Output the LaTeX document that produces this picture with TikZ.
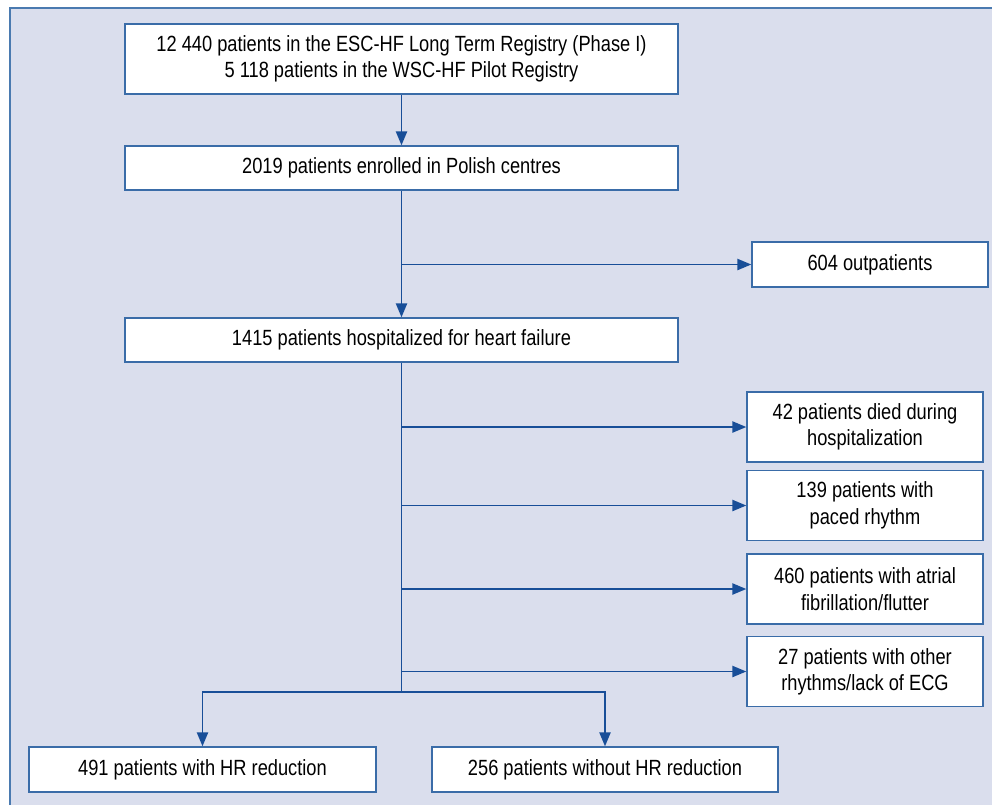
\documentclass[tikz,border=0pt]{standalone}
\usepackage{fontspec}
\setmainfont{Liberation Sans}[FakeStretch=0.83]
\usetikzlibrary{arrows.meta}
\definecolor{bgfill}{RGB}{218,222,237}
\definecolor{frameblue}{RGB}{74,122,176}
\definecolor{boxblue}{RGB}{58,108,168}
\definecolor{arrowblue}{RGB}{24,78,152}
\begin{document}
\begin{tikzpicture}[x=0.5pt, y=-0.5pt,
    every node/.style={font=\fontsize{11}{13.2}\selectfont, align=center},
    stagebox/.style={rectangle, draw=boxblue, line width=0.7pt, fill=white,
                     inner sep=0pt, minimum width=276.5pt, minimum height=22pt},
    sidebox/.style={rectangle, draw=boxblue, line width=0.7pt, fill=white,
                    inner sep=0pt, minimum width=118pt, minimum height=35pt},
    endbox/.style={rectangle, draw=boxblue, line width=0.7pt, fill=white,
                   inner sep=0pt, minimum width=173.5pt, minimum height=22.5pt},
    link/.style={arrowblue, line width=0.9pt},
    arr/.style={link, -{Triangle[length=7pt, width=5.6pt]}},
]
\useasboundingbox (0,0) rectangle (992,805);
\fill[bgfill] (10,8) rectangle (992,805);
\draw[frameblue, line width=1.3pt] (10,805) -- (10,8) -- (992,8);
\node[stagebox, minimum height=35pt] (reg)  at (401.5,59)  {12 440 patients in the ESC-HF Long Term Registry (Phase I)\\ 5 118 patients in the WSC-HF Pilot Registry};
\node[stagebox] (pol)  at (401.5,168) {2019 patients enrolled in Polish centres};
\node[stagebox] (hosp) at (401.5,340) {1415 patients hospitalized for heart failure};
\node[sidebox, minimum height=22.5pt] (outp) at (870,264.5) {604 outpatients};
\node[sidebox] (died)  at (865,427)   {42 patients died during\\ hospitalization};
\node[sidebox] (paced) at (865,505.5) {139 patients with\\ paced rhythm};
\node[sidebox] (afib)  at (865,589)   {460 patients with atrial\\ fibrillation/flutter};
\node[sidebox] (other) at (865,671.5) {27 patients with other\\ rhythms/lack of ECG};
\node[endbox] (hrred)  at (202.5,769.5) {491 patients with HR reduction};
\node[endbox, minimum width=173pt] (nohr) at (605,769.5) {256 patients without HR reduction};
\coordinate (split) at (401.5,692);
\draw[arr] (reg) -- (pol);
\draw[arr] (pol) -- (hosp);
\draw[arr] (pol.south |- outp.west) -- (outp.west);
\draw[link] (hosp.south) -- (split);
\foreach \n in {died, paced, afib, other}
  \draw[arr] (hosp.south |- \n.west) -- (\n.west);
\draw[arr] (split) -| (hrred.north);
\draw[arr] (split) -| (nohr.north);
\end{tikzpicture}
\end{document}
